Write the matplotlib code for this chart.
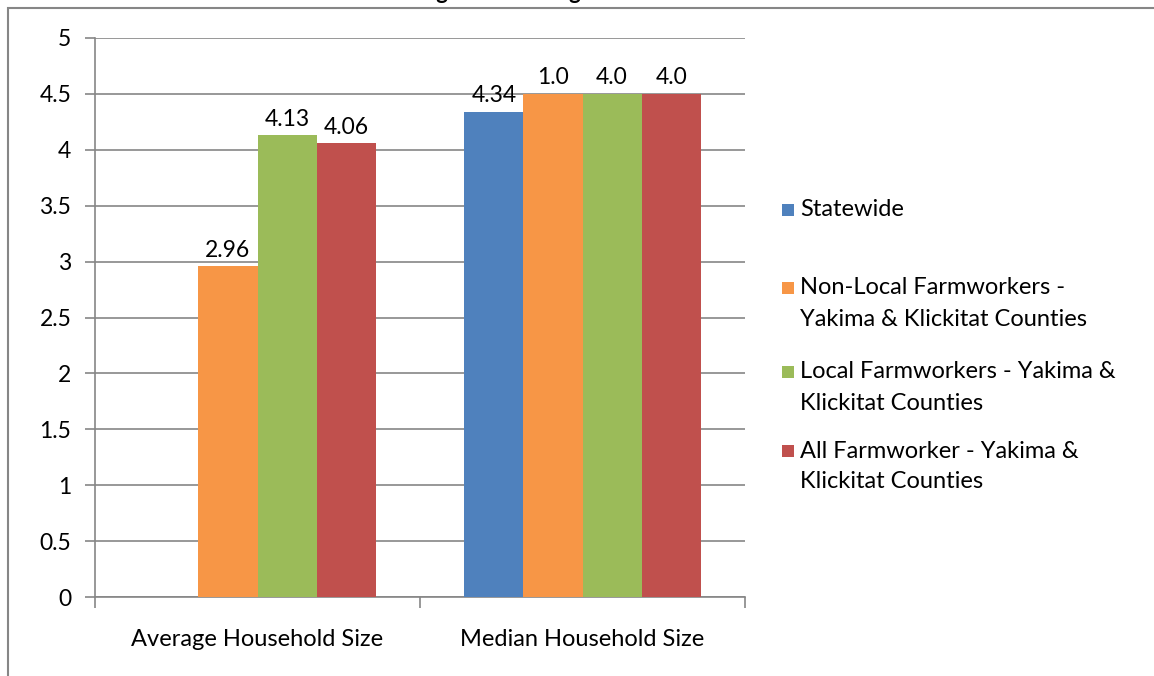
import matplotlib
matplotlib.use("Agg")
import matplotlib.pyplot as plt
from matplotlib.patches import Rectangle
import numpy as np

plt.rcParams['font.family'] = ['Lato', 'DejaVu Sans']

categories = ["Average Household Size", "Median Household Size"]
series = [
    "Statewide",
    "Non-Local Farmworkers -\nYakima & Klickitat Counties",
    "Local Farmworkers - Yakima &\nKlickitat Counties",
    "All Farmworker - Yakima &\nKlickitat Counties",
]
colors = ["#4F81BD", "#F79646", "#9BBB59", "#C0504D"]

# values per series: [average, median]; statewide average is missing
statewide = [None, 4.34]
non_local = [2.96, 4.5]
local = [4.13, 4.5]
all_fw = [4.06, 4.5]
values = [statewide, non_local, local, all_fw]

# printed data labels per series
statewide_labels = [None, "4.34"]
non_local_labels = ["2.96", "1.0"]
local_labels = ["4.13", "4.0"]
all_fw_labels = ["4.06", "4.0"]
labels = [statewide_labels, non_local_labels, local_labels, all_fw_labels]

yticks = [0, 0.5, 1, 1.5, 2, 2.5, 3, 3.5, 4, 4.5, 5]
ytick_labels = ["0", "0.5", "1", "1.5", "2", "2.5", "3", "3.5", "4", "4.5", "5"]

W, H = 1154, 676
fig = plt.figure(figsize=(W / 100, H / 100), dpi=100)
ax = fig.add_axes([95 / W, 79 / H, 650 / W, 559 / H])

gray = "#868686"
num_fs = 16.5
txt_fs = 17
n = len(series)
bw = 1 / (n + 1.5)
x = np.arange(len(categories))
for i, (vals, labs, col) in enumerate(zip(values, labels, colors)):
    offs = (i - (n - 1) / 2) * bw
    xs = [xi + offs for xi, v in zip(x, vals) if v is not None]
    vs = [v for v in vals if v is not None]
    ax.bar(xs, vs, width=bw, color=col, zorder=3)
    for xi, v, lab in zip(x, vals, labs):
        if v is None:
            continue
        ax.annotate(lab, (xi + offs, v), xytext=(0, 4), textcoords="offset points",
                    ha="center", va="bottom", fontsize=num_fs, color="black",
                    zorder=4, annotation_clip=False)

ax.set_xlim(-0.5, 1.5)
ax.set_ylim(0, 5)
ax.set_yticks(yticks)
ax.set_yticklabels(ytick_labels, fontsize=num_fs)
ax.yaxis.grid(True, color=gray, linewidth=1.2, zorder=0)
ax.set_axisbelow(True)
ax.set_xticks([-0.5, 0.5, 1.5])
ax.set_xticklabels([])
ax.set_xticks(x, minor=True)
ax.set_xticklabels(categories, minor=True, fontsize=txt_fs)
ax.tick_params(axis="x", which="minor", length=0, pad=23)
ax.tick_params(axis="x", which="major", length=8, color=gray, width=1.2)
ax.tick_params(axis="y", length=7, color=gray, width=1.2, pad=10)
for s in ["top", "right"]:
    ax.spines[s].set_visible(False)
for s in ["left", "bottom"]:
    ax.spines[s].set_color(gray)
    ax.spines[s].set_linewidth(1.2)

# legend drawn as square swatches with wrapped names beside them
legend_rows = [210, 288, 372, 451]
line_step = 31
sw = 12
for name, col, y0 in zip(series, colors, legend_rows):
    fig.add_artist(Rectangle((782 / W, 1 - (y0 + sw / 2) / H), sw / W, sw / H,
                             transform=fig.transFigure, facecolor=col,
                             edgecolor="none"))
    for k, line in enumerate(name.split("\n")):
        fig.text(800 / W, 1 - (y0 + k * line_step) / H, line, ha="left",
                 va="center", fontsize=txt_fs)

# outer chart frame
fig.add_artist(Rectangle((8 / W, -0.1), 2, 1.1 - 8 / H, transform=fig.transFigure,
                         fill=False, edgecolor=gray, linewidth=1.5))
fig.text(585 / W, 1 + 1 / H, "Figure 5: Average Household Size", ha="center",
         va="baseline", fontsize=16, fontweight="bold")

fig.savefig("out.png", dpi=100)
